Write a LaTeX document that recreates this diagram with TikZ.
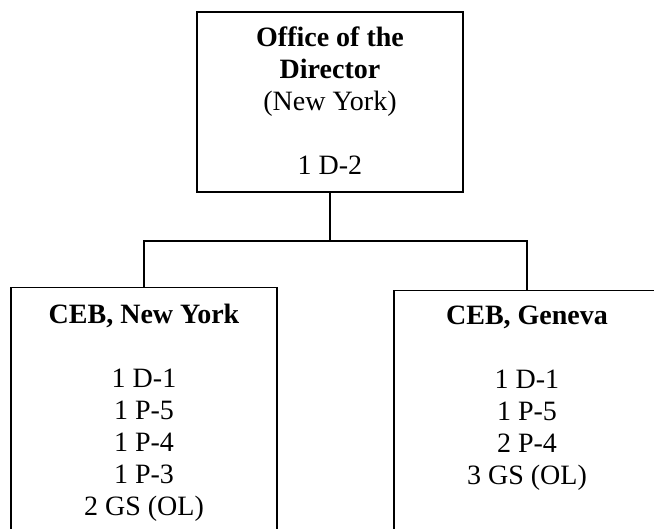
\documentclass[tikz,border=0pt]{standalone}
\usepackage{fontspec}
\setmainfont{Liberation Serif}
\usetikzlibrary{positioning}
\begin{document}
\begin{tikzpicture}[x=1pt,y=-1pt,line width=1.5pt,
        unit/.style={draw,minimum width=266pt,inner sep=0pt},
        post/.style={align=center,inner sep=0pt,font=\fontsize{28}{32}\selectfont}]
        \clip (0,0) rectangle (654,529);
        \node[unit,minimum height=180pt]                at (330,102) (dir)   {};
        \node[unit,minimum height=280pt,anchor=north]   at (144,287) (cebny) {};
        \node[unit,minimum height=280pt,anchor=north]   at (527,290) (cebge) {};
        \coordinate                                     (hub) at (330,241);

        \node[post,below=15pt of dir.north]   (dirtext)   {\textbf{Office of the}\\\textbf{Director}\\(New York)\\[32pt]1 D-2};
        \node[post,below=16pt of cebny.north] (cebnytext) {\textbf{CEB, New York}\\[32pt]1 D-1\\1 P-5\\1 P-4\\1 P-3\\2 GS (OL)};
        \node[post,below=15pt of cebge.north] (cebgetext) {\textbf{CEB, Geneva}\\[32pt]1 D-1\\1 P-5\\2 P-4\\3 GS (OL)};

        \draw (dir.south) -- (hub)
              (cebny.north) |- (hub) -| (cebge.north);
    \end{tikzpicture}
\end{document}
